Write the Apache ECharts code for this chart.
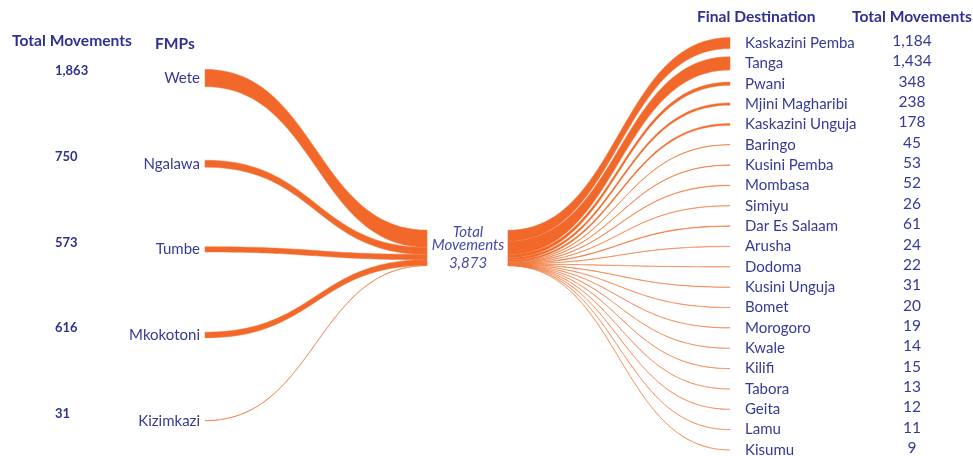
<!DOCTYPE html>
<html><head><meta charset="utf-8">
<script src="https://cdn.jsdelivr.net/npm/echarts@6/dist/echarts.min.js"></script>
<style>html,body{margin:0;padding:0;background:#fff}#c{width:973px;height:456px}</style>
</head><body><div id="c"></div>
<script>
// ---- data ----
const fmpNames = ['Wete', 'Ngalawa', 'Tumbe', 'Mkokotoni', 'Kizimkazi'];
const fmpValues = [1863, 750, 573, 616, 31];
const destNames = ['Kaskazini Pemba', 'Tanga', 'Pwani', 'Mjini Magharibi', 'Kaskazini Unguja', 'Baringo',
  'Kusini Pemba', 'Mombasa', 'Simiyu', 'Dar Es Salaam', 'Arusha', 'Dodoma', 'Kusini Unguja', 'Bomet',
  'Morogoro', 'Kwale', 'Kilifi', 'Tabora', 'Geita', 'Lamu', 'Kisumu'];
const destValues = [1184, 1434, 348, 238, 178, 45, 53, 52, 26, 61, 24, 22, 31, 20, 19, 14, 15, 13, 12, 11, 9];
const totalMovementsLabel = '3,873';

// ---- layout / style constants ----
const ORANGE = '#f2682a';
const BLUE = '#353a96';
const DARK = '#2e3192';
const FONT = 'Lato, "Liberation Sans", sans-serif';
const K = 0.0093;           // pixels per movement (band thickness)
const Y_CENTER = 10.07;     // center convergence on the y index scale
const X_CL = 0.423, X_CR = 0.577;
function leftY(i) { return 1.72 + 4.21 * i; }

function cumulative(arr) { let s = 0; return arr.map(v => { const c = s; s += v; return c; }); }
const fmpCum = cumulative(fmpValues);
const destCum = cumulative(destValues);
const fmpTotal = fmpValues.reduce((a, b) => a + b, 0);
const destTotal = destValues.reduce((a, b) => a + b, 0);

const fmtNum = v => v.toLocaleString('en-US');

function makeRenderer(side, total, names) {
  return function (params, api) {
    const idx = api.value(0), v = api.value(1), cum = api.value(2);
    const nodeY = side === 'L' ? leftY(idx) : idx;
    const nodeX = side === 'L' ? 0 : 1;
    const cX = side === 'L' ? X_CL : X_CR;
    const pN = api.coord([nodeX, nodeY]);
    const pC = api.coord([cX, Y_CENTER]);
    const w = v * K;
    const cTop = pC[1] - total * K / 2 + cum * K;
    const nTop = pN[1] - w / 2;
    const xm = (pN[0] + pC[0]) / 2;
    function bez(t, y0, y1) {
      const mt = 1 - t;
      const x = mt * mt * mt * pN[0] + 3 * mt * mt * t * xm + 3 * mt * t * t * xm + t * t * t * pC[0];
      const y = (mt * mt * mt + 3 * mt * mt * t) * y0 + (3 * mt * t * t + t * t * t) * y1;
      return [x, y];
    }
    const N = 48, pts = [];
    for (let k = 0; k <= N; k++) pts.push(bez(k / N, nTop, cTop));
    for (let k = N; k >= 0; k--) pts.push(bez(k / N, nTop + w, cTop + w));
    const children = [{
      type: 'polygon',
      shape: { points: pts },
      style: { fill: ORANGE, stroke: 'rgba(240,120,60,0.6)', lineWidth: 0.8 }
    }];
    if (side === 'L') {
      children.push({ type: 'text', style: { text: names[idx], x: pN[0] - 5, y: pN[1], align: 'right', verticalAlign: 'middle', fill: BLUE, font: '15px ' + FONT } });
      children.push({ type: 'text', style: { text: fmtNum(v), x: 55, y: pN[1] - 7, align: 'left', verticalAlign: 'middle', fill: DARK, font: 'bold 13px ' + FONT } });
    } else {
      children.push({ type: 'text', style: { text: names[idx], x: pN[0] + 15, y: pN[1], align: 'left', verticalAlign: 'middle', fill: BLUE, font: '15px ' + FONT } });
      children.push({ type: 'text', style: { text: fmtNum(v), x: 912, y: pN[1] - 2, align: 'center', verticalAlign: 'middle', fill: BLUE, font: '15.5px ' + FONT } });
    }
    return { type: 'group', children: children };
  };
}

const chart = echarts.init(document.getElementById('c'), null, { renderer: 'canvas' });
chart.setOption({
  animation: false,
  backgroundColor: '#fff',
  grid: { left: 205, right: 243, top: 43, bottom: 6 },
  xAxis: { type: 'value', min: 0, max: 1, show: false },
  yAxis: { type: 'value', min: 0, max: 20, inverse: true, show: false },
  graphic: [
    { type: 'text', left: 12, top: 33, style: { text: 'Total Movements', fill: DARK, font: 'bold 15.6px ' + FONT } },
    { type: 'text', left: 155, top: 36, style: { text: 'FMPs', fill: DARK, font: 'bold 15.6px ' + FONT } },
    { type: 'text', left: 697, top: 9, style: { text: 'Final Destination', fill: DARK, font: 'bold 15.6px ' + FONT } },
    { type: 'text', left: 852, top: 9, style: { text: 'Total Movements', fill: DARK, font: 'bold 15.6px ' + FONT } },
    { type: 'text', x: 468, y: 232, style: { text: 'Total', align: 'center', verticalAlign: 'middle', fill: '#4549ad', font: 'italic 15px ' + FONT } },
    { type: 'text', x: 468, y: 245, style: { text: 'Movements', align: 'center', verticalAlign: 'middle', fill: '#4549ad', font: 'italic 15px ' + FONT } },
    { type: 'text', x: 468, y: 263, style: { text: totalMovementsLabel, align: 'center', verticalAlign: 'middle', fill: '#4549ad', font: 'italic 15px ' + FONT } }
  ],
  series: [
    {
      type: 'custom', renderItem: makeRenderer('L', fmpTotal, fmpNames),
      data: fmpNames.map((n, i) => [i, fmpValues[i], fmpCum[i]]),
      silent: true, clip: false
    },
    {
      type: 'custom', renderItem: makeRenderer('R', destTotal, destNames),
      data: destNames.map((n, i) => [i, destValues[i], destCum[i]]),
      silent: true, clip: false
    }
  ]
});
</script>
</body></html>
